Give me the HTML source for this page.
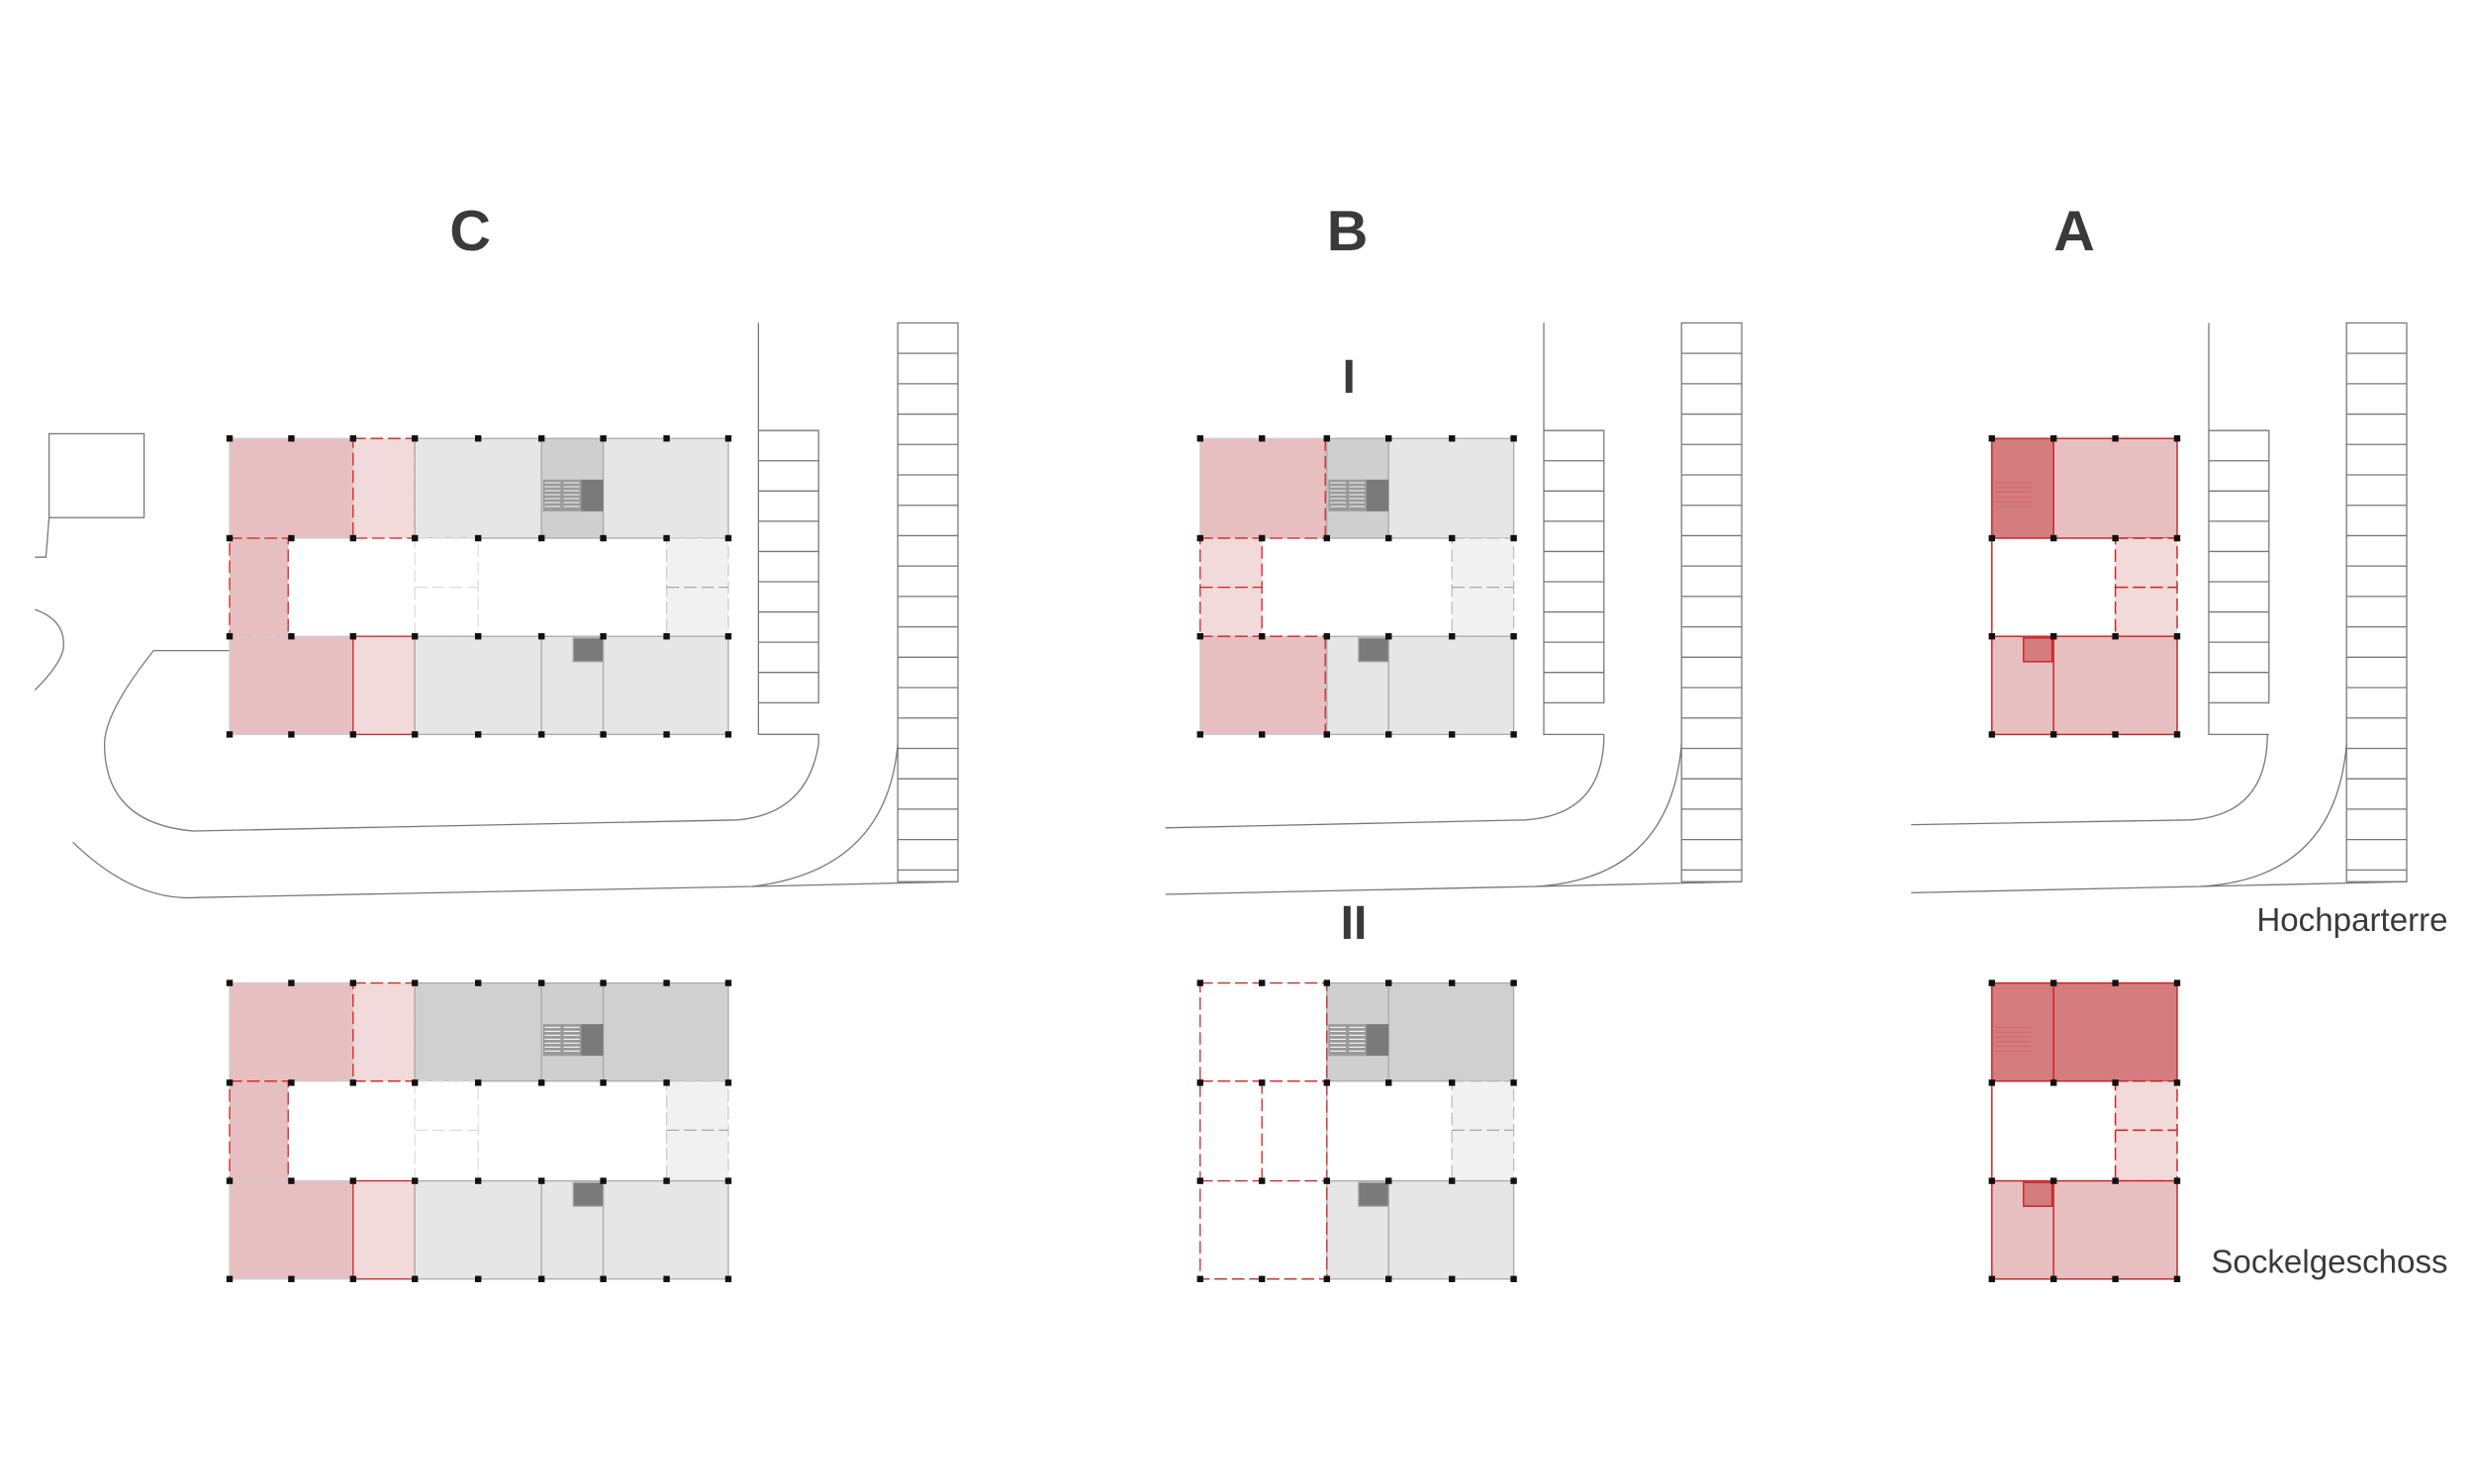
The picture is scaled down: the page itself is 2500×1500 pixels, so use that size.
<!DOCTYPE html>
<html><head><meta charset="utf-8"><style>
html,body{margin:0;padding:0;background:#fff;width:2500px;height:1500px;overflow:hidden}
svg{display:block}
text{font-family:"Liberation Sans",sans-serif;fill:#3a3a3a}
</style></head><body>
<svg width="2500" height="1500" viewBox="0 0 1562.5 937.5" xmlns="http://www.w3.org/2000/svg">
<defs>
<g id="stair">
 <rect x="0" y="0" width="24" height="20" fill="#9a9a9a"/>
 <g stroke="#f4f4f4" stroke-width="0.7">
  <line x1="1" y1="2" x2="11" y2="2"/><line x1="1" y1="4.5" x2="11" y2="4.5"/><line x1="1" y1="7" x2="11" y2="7"/><line x1="1" y1="9.5" x2="11" y2="9.5"/><line x1="1" y1="12" x2="11" y2="12"/><line x1="1" y1="14.5" x2="11" y2="14.5"/><line x1="1" y1="17" x2="11" y2="17"/>
  <line x1="13" y1="2" x2="23" y2="2"/><line x1="13" y1="4.5" x2="23" y2="4.5"/><line x1="13" y1="7" x2="23" y2="7"/><line x1="13" y1="9.5" x2="23" y2="9.5"/><line x1="13" y1="12" x2="23" y2="12"/><line x1="13" y1="14.5" x2="23" y2="14.5"/><line x1="13" y1="17" x2="23" y2="17"/>
 </g>
 <rect x="24" y="0" width="14" height="20" fill="#7a7a7a"/>
</g>
<g id="pk">
 <g fill="none" stroke="#777" stroke-width="0.8">
 <rect x="0" y="0" width="38" height="353"/>
 <line x1="0" y1="19.2" x2="38" y2="19.2"/><line x1="0" y1="38.4" x2="38" y2="38.4"/><line x1="0" y1="57.6" x2="38" y2="57.6"/><line x1="0" y1="76.8" x2="38" y2="76.8"/><line x1="0" y1="96" x2="38" y2="96"/><line x1="0" y1="115.2" x2="38" y2="115.2"/><line x1="0" y1="134.4" x2="38" y2="134.4"/><line x1="0" y1="153.6" x2="38" y2="153.6"/><line x1="0" y1="172.8" x2="38" y2="172.8"/><line x1="0" y1="192" x2="38" y2="192"/><line x1="0" y1="211.2" x2="38" y2="211.2"/><line x1="0" y1="230.4" x2="38" y2="230.4"/><line x1="0" y1="249.6" x2="38" y2="249.6"/><line x1="0" y1="268.8" x2="38" y2="268.8"/><line x1="0" y1="288" x2="38" y2="288"/><line x1="0" y1="307.2" x2="38" y2="307.2"/><line x1="0" y1="326.4" x2="38" y2="326.4"/><line x1="0" y1="345.6" x2="38" y2="345.6"/>
 </g>
</g>
<g id="sm">
 <g fill="none" stroke="#777" stroke-width="0.8">
 <polyline points="0,-68 0,192 38,192"/>
 <polyline points="0,0 38,0 38,172 0,172"/>
 <line x1="0" y1="19.1" x2="38" y2="19.1"/><line x1="0" y1="38.2" x2="38" y2="38.2"/><line x1="0" y1="57.3" x2="38" y2="57.3"/><line x1="0" y1="76.4" x2="38" y2="76.4"/><line x1="0" y1="95.5" x2="38" y2="95.5"/><line x1="0" y1="114.6" x2="38" y2="114.6"/><line x1="0" y1="133.7" x2="38" y2="133.7"/><line x1="0" y1="152.8" x2="38" y2="152.8"/>
 </g>
</g>
</defs>

<text x="297" y="158" font-size="36" font-weight="bold" text-anchor="middle">C</text>
<text x="851" y="158" font-size="36" font-weight="bold" text-anchor="middle">B</text>
<text x="1310" y="158" font-size="36" font-weight="bold" text-anchor="middle">A</text>
<text x="852" y="248" font-size="30" font-weight="bold" text-anchor="middle">I</text>
<text x="855" y="593" font-size="30" font-weight="bold" text-anchor="middle">II</text>
<text x="1546" y="588" font-size="20.7" text-anchor="end">Hochparterre</text>
<text x="1546" y="804" font-size="20.7" text-anchor="end">Sockelgeschoss</text>

<g fill="none" stroke="#777" stroke-width="0.8">
 <rect x="31" y="274" width="60" height="53"/>
 <polyline points="31,327 29,352 22,352"/>
 <path d="M22,385 Q42,392 40,410 Q38,420 22,436"/>
 <path d="M145,411 L97,411 Q66,450 66,470 Q66,520 122,525 L466,518 Q510,514 517,470 L517,464 L479,464"/>
 <path d="M46,532 Q85,570 125,567 L475,560 Q560,550 567,470"/>
 <line x1="475" y1="560" x2="605" y2="557"/>
</g>
<use href="#sm" x="479" y="272"/>
<use href="#pk" x="567" y="204"/>

<g stroke-width="0.8">
 <rect x="145" y="277" width="78" height="63" fill="#e8bfc1" stroke="#ccc"/>
 <rect x="223" y="277" width="39" height="63" fill="#f2d9da" stroke="#c22" stroke-dasharray="8,3"/>
 <rect x="262" y="277" width="80" height="63" fill="#e6e6e6" stroke="#aaa"/>
 <rect x="342" y="277" width="39" height="63" fill="#cfcfcf" stroke="#aaa"/>
 <rect x="381" y="277" width="79" height="63" fill="#e6e6e6" stroke="#aaa"/>
 <rect x="145" y="340" width="37" height="62" fill="#e8bfc1" stroke="#c22" stroke-dasharray="8,3"/>
 <rect x="262" y="340" width="40" height="62" fill="#fff" stroke="#ddd" stroke-dasharray="8,3"/>
 <line x1="262" y1="371" x2="302" y2="371" stroke="#ddd" stroke-dasharray="8,3"/>
 <rect x="421" y="340" width="39" height="62" fill="#f1f1f1" stroke="#ccc" stroke-dasharray="8,3"/>
 <line x1="421" y1="371" x2="460" y2="371" stroke="#aaa" stroke-dasharray="8,3"/>
 <rect x="145" y="402" width="78" height="62" fill="#e8bfc1" stroke="#ccc"/>
 <rect x="223" y="402" width="39" height="62" fill="#f2d9da" stroke="#c22"/>
 <rect x="262" y="402" width="80" height="62" fill="#e6e6e6" stroke="#aaa"/>
 <rect x="342" y="402" width="39" height="62" fill="#e6e6e6" stroke="#aaa"/>
 <rect x="381" y="402" width="79" height="62" fill="#e6e6e6" stroke="#aaa"/>
 <rect x="362" y="403" width="19" height="15" fill="#7a7a7a" stroke="#aaa"/>
</g>
<use href="#stair" x="343" y="303"/>

<g stroke-width="0.8">
 <rect x="145" y="621" width="78" height="62" fill="#e8bfc1" stroke="#ccc"/>
 <rect x="223" y="621" width="39" height="62" fill="#f2d9da" stroke="#c22" stroke-dasharray="8,3"/>
 <rect x="262" y="621" width="80" height="62" fill="#d0d0d0" stroke="#aaa"/>
 <rect x="342" y="621" width="39" height="62" fill="#cfcfcf" stroke="#aaa"/>
 <rect x="381" y="621" width="79" height="62" fill="#d0d0d0" stroke="#aaa"/>
 <rect x="145" y="683" width="37" height="63" fill="#e8bfc1" stroke="#c22" stroke-dasharray="8,3"/>
 <rect x="262" y="683" width="40" height="63" fill="#fff" stroke="#ddd" stroke-dasharray="8,3"/>
 <line x1="262" y1="714" x2="302" y2="714" stroke="#ddd" stroke-dasharray="8,3"/>
 <rect x="421" y="683" width="39" height="63" fill="#f1f1f1" stroke="#ccc" stroke-dasharray="8,3"/>
 <line x1="421" y1="714" x2="460" y2="714" stroke="#aaa" stroke-dasharray="8,3"/>
 <rect x="145" y="746" width="78" height="62" fill="#e8bfc1" stroke="#ccc"/>
 <rect x="223" y="746" width="39" height="62" fill="#f2d9da" stroke="#c22"/>
 <rect x="262" y="746" width="80" height="62" fill="#e6e6e6" stroke="#aaa"/>
 <rect x="342" y="746" width="39" height="62" fill="#e6e6e6" stroke="#aaa"/>
 <rect x="381" y="746" width="79" height="62" fill="#e6e6e6" stroke="#aaa"/>
 <rect x="362" y="747" width="19" height="15" fill="#7a7a7a" stroke="#aaa"/>
</g>
<use href="#stair" x="343" y="647"/>

<g fill="#111">
 <g id="cp">
 <rect x="143" y="275" width="4" height="4"/><rect x="182" y="275" width="4" height="4"/><rect x="221" y="275" width="4" height="4"/><rect x="260" y="275" width="4" height="4"/><rect x="300" y="275" width="4" height="4"/><rect x="340" y="275" width="4" height="4"/><rect x="379" y="275" width="4" height="4"/><rect x="419" y="275" width="4" height="4"/><rect x="458" y="275" width="4" height="4"/>
 <rect x="143" y="338" width="4" height="4"/><rect x="182" y="338" width="4" height="4"/><rect x="221" y="338" width="4" height="4"/><rect x="260" y="338" width="4" height="4"/><rect x="300" y="338" width="4" height="4"/><rect x="340" y="338" width="4" height="4"/><rect x="379" y="338" width="4" height="4"/><rect x="419" y="338" width="4" height="4"/><rect x="458" y="338" width="4" height="4"/>
 <rect x="143" y="400" width="4" height="4"/><rect x="182" y="400" width="4" height="4"/><rect x="221" y="400" width="4" height="4"/><rect x="260" y="400" width="4" height="4"/><rect x="300" y="400" width="4" height="4"/><rect x="340" y="400" width="4" height="4"/><rect x="379" y="400" width="4" height="4"/><rect x="419" y="400" width="4" height="4"/><rect x="458" y="400" width="4" height="4"/>
 <rect x="143" y="462" width="4" height="4"/><rect x="182" y="462" width="4" height="4"/><rect x="221" y="462" width="4" height="4"/><rect x="260" y="462" width="4" height="4"/><rect x="300" y="462" width="4" height="4"/><rect x="340" y="462" width="4" height="4"/><rect x="379" y="462" width="4" height="4"/><rect x="419" y="462" width="4" height="4"/><rect x="458" y="462" width="4" height="4"/>
 </g>
 <use href="#cp" x="0" y="344"/>
</g>

<g fill="none" stroke="#777" stroke-width="0.8">
 <path d="M1013,464 Q1013,515 963,518 L736,523"/>
 <path d="M1062,470 Q1055,555 970,560 L736,565"/>
 <line x1="970" y1="560" x2="1100" y2="557"/>
</g>
<use href="#sm" x="975" y="272"/>
<use href="#pk" x="1062" y="204"/>

<g stroke-width="0.8">
 <rect x="758" y="277" width="80" height="63" fill="#e8bfc1" stroke="#ccc"/>
 <line x1="837" y1="277" x2="837" y2="340" stroke="#c22" stroke-dasharray="8,3"/>
 <line x1="758" y1="340" x2="838" y2="340" stroke="#c22" stroke-dasharray="8,3"/>
 <rect x="838" y="277" width="39" height="63" fill="#cfcfcf" stroke="#aaa"/>
 <rect x="877" y="277" width="79" height="63" fill="#e6e6e6" stroke="#aaa"/>
 <rect x="758" y="340" width="39" height="62" fill="#f2d9da" stroke="#c22" stroke-dasharray="8,3"/>
 <line x1="758" y1="371" x2="797" y2="371" stroke="#c22" stroke-dasharray="8,3"/>
 <rect x="917" y="340" width="39" height="62" fill="#f1f1f1" stroke="#bbb" stroke-dasharray="8,3"/>
 <line x1="917" y1="371" x2="956" y2="371" stroke="#aaa" stroke-dasharray="8,3"/>
 <rect x="758" y="402" width="80" height="62" fill="#e8bfc1" stroke="#ccc"/>
 <line x1="837" y1="402" x2="837" y2="464" stroke="#c22" stroke-dasharray="8,3"/>
 <line x1="758" y1="402" x2="838" y2="402" stroke="#c22" stroke-dasharray="8,3"/>
 <rect x="838" y="402" width="39" height="62" fill="#e6e6e6" stroke="#aaa"/>
 <rect x="877" y="402" width="79" height="62" fill="#e6e6e6" stroke="#aaa"/>
 <rect x="858" y="403" width="19" height="15" fill="#7a7a7a" stroke="#aaa"/>
</g>
<use href="#stair" x="839" y="303"/>

<g stroke-width="0.8">
 <rect x="838" y="621" width="39" height="62" fill="#cfcfcf" stroke="#aaa"/>
 <rect x="877" y="621" width="79" height="62" fill="#d0d0d0" stroke="#aaa"/>
 <line x1="838" y1="683" x2="838" y2="746" stroke="#aaa"/>
 <rect x="917" y="683" width="39" height="63" fill="#f1f1f1" stroke="#bbb" stroke-dasharray="8,3"/>
 <line x1="917" y1="714" x2="956" y2="714" stroke="#aaa" stroke-dasharray="8,3"/>
 <rect x="838" y="746" width="39" height="62" fill="#e6e6e6" stroke="#aaa"/>
 <rect x="877" y="746" width="79" height="62" fill="#e6e6e6" stroke="#aaa"/>
 <rect x="858" y="747" width="19" height="15" fill="#7a7a7a" stroke="#aaa"/>
 <g fill="none" stroke="#c22" stroke-dasharray="8,3">
  <rect x="758" y="621" width="80" height="187"/>
  <line x1="758" y1="683" x2="838" y2="683"/>
  <line x1="758" y1="746" x2="838" y2="746"/>
  <line x1="797" y1="683" x2="797" y2="746"/>
 </g>
</g>
<use href="#stair" x="839" y="647"/>

<g fill="#111">
 <g id="bp">
 <rect x="756" y="275" width="4" height="4"/><rect x="795" y="275" width="4" height="4"/><rect x="836" y="275" width="4" height="4"/><rect x="875" y="275" width="4" height="4"/><rect x="915" y="275" width="4" height="4"/><rect x="954" y="275" width="4" height="4"/>
 <rect x="756" y="338" width="4" height="4"/><rect x="795" y="338" width="4" height="4"/><rect x="836" y="338" width="4" height="4"/><rect x="875" y="338" width="4" height="4"/><rect x="915" y="338" width="4" height="4"/><rect x="954" y="338" width="4" height="4"/>
 <rect x="756" y="400" width="4" height="4"/><rect x="795" y="400" width="4" height="4"/><rect x="836" y="400" width="4" height="4"/><rect x="875" y="400" width="4" height="4"/><rect x="915" y="400" width="4" height="4"/><rect x="954" y="400" width="4" height="4"/>
 <rect x="756" y="462" width="4" height="4"/><rect x="795" y="462" width="4" height="4"/><rect x="836" y="462" width="4" height="4"/><rect x="875" y="462" width="4" height="4"/><rect x="915" y="462" width="4" height="4"/><rect x="954" y="462" width="4" height="4"/>
 </g>
 <use href="#bp" x="0" y="344"/>
</g>

<g fill="none" stroke="#777" stroke-width="0.8">
 <path d="M1432,464 Q1432,515 1383,518 L1207,521"/>
 <path d="M1482,470 Q1475,555 1390,560 L1207,564"/>
 <line x1="1390" y1="560" x2="1520" y2="557"/>
</g>
<use href="#sm" x="1395" y="272"/>
<use href="#pk" x="1482" y="204"/>

<g stroke-width="0.9">
 <rect x="1258" y="277" width="39" height="63" fill="#d47c7e" stroke="#c22"/>
 <rect x="1297" y="277" width="78" height="63" fill="#e8bfc1" stroke="#c22"/>
 <line x1="1258" y1="340" x2="1258" y2="402" stroke="#c22"/>
 <rect x="1336" y="340" width="39" height="62" fill="#f2d9da" stroke="#c22" stroke-dasharray="8,3"/>
 <line x1="1336" y1="371" x2="1375" y2="371" stroke="#c22" stroke-dasharray="8,3"/>
 <rect x="1258" y="402" width="39" height="62" fill="#e8bfc1" stroke="#c22"/>
 <rect x="1297" y="402" width="78" height="62" fill="#e8bfc1" stroke="#c22"/>
 <rect x="1278" y="403" width="18" height="15" fill="#d47c7e" stroke="#c22"/>
 <g stroke="#c56" stroke-width="0.5" opacity="0.7">
  <line x1="1260" y1="305" x2="1283" y2="305"/><line x1="1260" y1="308" x2="1283" y2="308"/><line x1="1260" y1="311" x2="1283" y2="311"/><line x1="1260" y1="314" x2="1283" y2="314"/><line x1="1260" y1="317" x2="1283" y2="317"/><line x1="1260" y1="320" x2="1283" y2="320"/>
 </g>
</g>
<g stroke-width="0.9">
 <rect x="1258" y="621" width="39" height="62" fill="#d47c7e" stroke="#c22"/>
 <rect x="1297" y="621" width="78" height="62" fill="#d47c7e" stroke="#c22"/>
 <line x1="1258" y1="683" x2="1258" y2="746" stroke="#c22"/>
 <rect x="1336" y="683" width="39" height="63" fill="#f2d9da" stroke="#c22" stroke-dasharray="8,3"/>
 <line x1="1336" y1="714" x2="1375" y2="714" stroke="#c22" stroke-dasharray="8,3"/>
 <rect x="1258" y="746" width="39" height="62" fill="#e8bfc1" stroke="#c22"/>
 <rect x="1297" y="746" width="78" height="62" fill="#e8bfc1" stroke="#c22"/>
 <rect x="1278" y="747" width="18" height="15" fill="#d47c7e" stroke="#c22"/>
 <g stroke="#c56" stroke-width="0.5" opacity="0.7">
  <line x1="1260" y1="649" x2="1283" y2="649"/><line x1="1260" y1="652" x2="1283" y2="652"/><line x1="1260" y1="655" x2="1283" y2="655"/><line x1="1260" y1="658" x2="1283" y2="658"/><line x1="1260" y1="661" x2="1283" y2="661"/><line x1="1260" y1="664" x2="1283" y2="664"/>
 </g>
</g>
<g fill="#111">
 <g id="ap">
 <rect x="1256" y="275" width="4" height="4"/><rect x="1295" y="275" width="4" height="4"/><rect x="1334" y="275" width="4" height="4"/><rect x="1373" y="275" width="4" height="4"/>
 <rect x="1256" y="338" width="4" height="4"/><rect x="1295" y="338" width="4" height="4"/><rect x="1334" y="338" width="4" height="4"/><rect x="1373" y="338" width="4" height="4"/>
 <rect x="1256" y="400" width="4" height="4"/><rect x="1295" y="400" width="4" height="4"/><rect x="1334" y="400" width="4" height="4"/><rect x="1373" y="400" width="4" height="4"/>
 <rect x="1256" y="462" width="4" height="4"/><rect x="1295" y="462" width="4" height="4"/><rect x="1334" y="462" width="4" height="4"/><rect x="1373" y="462" width="4" height="4"/>
 </g>
 <use href="#ap" x="0" y="344"/>
</g>
</svg>
</body></html>
